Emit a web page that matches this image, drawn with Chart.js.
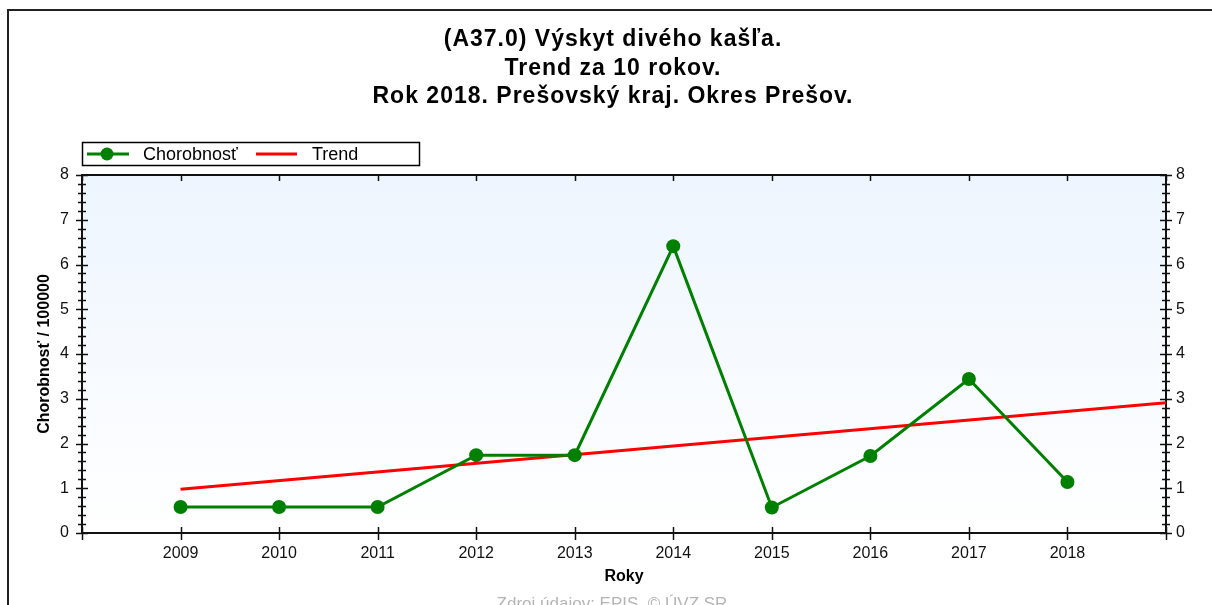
<!DOCTYPE html>
<html>
<head>
<meta charset="utf-8">
<script src="https://cdn.jsdelivr.net/npm/chart.js@4.4.1/dist/chart.umd.min.js"></script>
<style>
  html, body { margin: 0; padding: 0; background: #fff; }
  #wrap { width: 1212px; height: 605px; }
</style>
</head>
<body>
<div id="wrap"><canvas id="myChart" width="1212" height="605"></canvas></div>
<script>
"use strict";

// values
const years = [2009, 2010, 2011, 2012, 2013, 2014, 2015, 2016, 2017, 2018];
const chorobnost = [0.58, 0.58, 0.58, 1.74, 1.74, 6.41, 0.57, 1.72, 3.44, 1.14];
const trendYears = [2009, 2019];
const trendValues = [0.98, 2.91];

// axis ranges / tick labels
const yearMin = 2008;
const yearMax = 2019;
const yMax = 8;
const titleLines = [
  '(A37.0) Výskyt divého kašľa.',
  'Trend za 10 rokov.',
  'Rok 2018. Prešovský kraj. Okres Prešov.'
];
const footerText = 'Zdroj údajov: EPIS, © ÚVZ SR';

Chart.defaults.font.family = '"Liberation Sans", Arial, sans-serif';
Chart.defaults.color = '#111';

const my_data = {
  datasets: [{
    label: 'Chorobnosť',
    data: years.map((y, i) => ({ x: y, y: chorobnost[i] })),
    borderColor: '#008000',
    backgroundColor: '#008000',
    borderWidth: 3,
    pointRadius: 7,
    pointBorderWidth: 0,
    pointBackgroundColor: '#008000',
    order: 1
  }, {
    label: 'Trend',
    data: trendYears.map((y, i) => ({ x: y, y: trendValues[i] })),
    borderColor: '#ff0000',
    backgroundColor: '#ff0000',
    borderWidth: 3,
    pointRadius: 0,
    order: 2
  }]
};

// plot background, frame, ticks, titles, legend
const decor = {
  id: 'decor',
  beforeDraw(chart) {
    const { ctx, chartArea: a } = chart;
    ctx.save();
    const g = ctx.createLinearGradient(0, a.top, 0, a.bottom);
    g.addColorStop(0, '#edf5fe');
    g.addColorStop(1, '#ffffff');
    ctx.fillStyle = g;
    ctx.fillRect(a.left, a.top, a.right - a.left, a.bottom - a.top);

    ctx.strokeStyle = '#222';
    ctx.lineWidth = 2;
    ctx.beginPath();
    ctx.moveTo(8, 605);
    ctx.lineTo(8, 10);
    ctx.lineTo(1212, 10);
    ctx.stroke();
    ctx.restore();
  },
  afterDraw(chart) {
    const { ctx, chartArea: a, scales } = chart;
    ctx.save();
    ctx.strokeStyle = '#111';
    ctx.lineWidth = 1.5;
    ctx.beginPath();
    // year ticks, bottom crossing the axis, top pointing in
    for (let v = yearMin; v <= yearMax; v++) {
      const px = Math.round(scales.x.getPixelForValue(v)) + 0.5;
      ctx.moveTo(px, a.bottom - 6);
      ctx.lineTo(px, a.bottom + 7);
      ctx.moveTo(px, a.top);
      ctx.lineTo(px, a.top + 6);
    }
    // major and minor ticks on both value axes
    for (let k = 0; k <= yMax * 5; k++) {
      const py = Math.round(scales.y.getPixelForValue(k / 5)) + 0.5;
      const half = k % 5 === 0 ? 6 : 4;
      ctx.moveTo(a.left - half, py);
      ctx.lineTo(a.left + half, py);
      ctx.moveTo(a.right - half, py);
      ctx.lineTo(a.right + half, py);
    }
    ctx.stroke();

    // title
    ctx.fillStyle = '#000';
    ctx.textAlign = 'center';
    ctx.textBaseline = 'middle';
    ctx.font = 'bold 23px "Liberation Sans", Arial, sans-serif';
    if ('letterSpacing' in ctx) ctx.letterSpacing = '1px';
    titleLines.forEach((t, i) => ctx.fillText(t, 613, 40 + i * 28.5));
    if ('letterSpacing' in ctx) ctx.letterSpacing = '0px';

    // legend
    const ds = chart.data.datasets;
    ctx.lineWidth = 1.5;
    ctx.strokeStyle = '#000';
    ctx.strokeRect(82.5, 142.5, 337, 23);
    const ly = 154;
    ctx.strokeStyle = ds[0].borderColor;
    ctx.lineWidth = 3;
    ctx.beginPath();
    ctx.moveTo(87, ly);
    ctx.lineTo(129, ly);
    ctx.stroke();
    ctx.fillStyle = ds[0].pointBackgroundColor;
    ctx.beginPath();
    ctx.arc(107, ly, 6.5, 0, Math.PI * 2);
    ctx.fill();
    ctx.strokeStyle = ds[1].borderColor;
    ctx.beginPath();
    ctx.moveTo(256, ly);
    ctx.lineTo(297, ly);
    ctx.stroke();
    ctx.fillStyle = '#000';
    ctx.textAlign = 'left';
    ctx.font = '18px "Liberation Sans", Arial, sans-serif';
    ctx.fillText(ds[0].label, 143, ly + 1);
    ctx.fillText(ds[1].label, 312, ly + 1);

    // source note, cut by the bottom edge
    ctx.fillStyle = '#b4b4b4';
    ctx.textAlign = 'center';
    ctx.font = '17px "Liberation Sans", Arial, sans-serif';
    ctx.fillText(footerText, 612, 604);
    ctx.restore();
  }
};

const config = {
  type: 'line',
  data: my_data,
  options: {
    responsive: false,
    animation: false,
    devicePixelRatio: 1,
    layout: { padding: 0 },
    plugins: {
      legend: { display: false },
      title: { display: false },
      tooltip: { enabled: false }
    },
    scales: {
      x: {
        type: 'linear',
        position: 'bottom',
        min: yearMin,
        max: yearMax,
        afterFit(s) { s.height = 72; },
        grid: { display: false, drawTicks: false },
        border: { display: true, color: '#111', width: 2 },
        ticks: {
          stepSize: 1,
          autoSkip: false,
          maxRotation: 0,
          padding: 11,
          font: { size: 16 },
          callback: v => (v >= years[0] && v <= years[years.length - 1]) ? String(v) : ''
        },
        title: {
          display: true,
          text: 'Roky',
          color: '#000',
          font: { size: 16, weight: 'bold' },
          padding: { top: 0, bottom: 19 }
        }
      },
      x2: {
        type: 'linear',
        position: 'top',
        min: yearMin,
        max: yearMax,
        afterFit(s) { s.height = 175; },
        grid: { display: false, drawTicks: false },
        border: { display: true, color: '#111', width: 2 },
        ticks: { display: false }
      },
      y: {
        position: 'left',
        min: 0,
        max: yMax,
        afterFit(s) { s.width = 82; },
        grid: { display: false, drawTicks: false },
        border: { display: true, color: '#111', width: 2 },
        ticks: { stepSize: 1, padding: 13, font: { size: 16 } },
        title: {
          display: true,
          text: 'Chorobnosť / 100000',
          color: '#000',
          font: { size: 16, weight: 'bold' },
          padding: { top: 35, bottom: 0 }
        }
      },
      y2: {
        position: 'right',
        min: 0,
        max: yMax,
        afterFit(s) { s.width = 46; },
        grid: { display: false, drawTicks: false },
        border: { display: true, color: '#111', width: 2 },
        ticks: { stepSize: 1, padding: 10, font: { size: 16 } }
      }
    }
  },
  plugins: [decor]
};

const my_chart = new Chart(document.getElementById('myChart'), config);
</script>
</body>
</html>
